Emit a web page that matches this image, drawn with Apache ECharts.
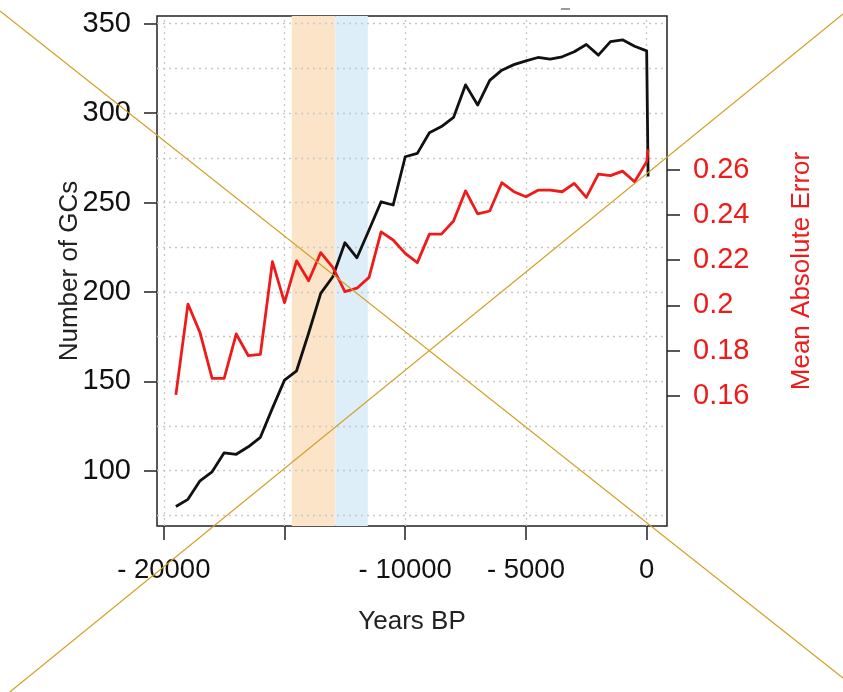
<!DOCTYPE html>
<html>
<head>
<meta charset="utf-8">
<title>Number of GCs and Mean Absolute Error through time</title>
<script src="https://cdn.jsdelivr.net/npm/echarts@6/dist/echarts.min.js"></script>
<style>
  html, body { margin: 0; padding: 0; background: #ffffff; }
  #chart { width: 843px; height: 692px; }
</style>
</head>
<body>
<div id="chart"></div>
<script>
// Time slices (years BP, negative = past)
const years = [-19500, -19000, -18500, -18000, -17500, -17000, -16500, -16000,
  -15500, -15000, -14500, -14000, -13500, -13000, -12500, -12000, -11500,
  -11000, -10500, -10000, -9500, -9000, -8500, -8000, -7500, -7000, -6500,
  -6000, -5500, -5000, -4500, -4000, -3500, -3000, -2500, -2000, -1500,
  -1000, -500, 0, 60];

// Number of GCs per time slice (left axis)
const gcCount = [80, 84, 94.4, 99.4, 110, 109.2, 113.4, 118.7, 135, 150.7,
  155.9, 177, 199.2, 208.5, 227.5, 219.1, 234.6, 250.4, 248.6, 275.6, 277.5,
  289, 292.5, 297.6, 315.8, 304.5, 318.3, 324, 327.1, 329.2, 331.1, 330.2,
  331.5, 334.3, 338.4, 332.4, 340, 341, 337.4, 334.8, 264.6];

// Mean absolute error per time slice (right axis)
const meanAbsError = [0.1605, 0.2006, 0.188, 0.1678, 0.1678, 0.1874, 0.1778,
  0.1784, 0.2193, 0.2012, 0.2197, 0.2109, 0.2233, 0.2168, 0.2061, 0.2076,
  0.2124, 0.2325, 0.2289, 0.223, 0.2189, 0.2315, 0.2315, 0.2373, 0.2506,
  0.2404, 0.2417, 0.2542, 0.2502, 0.248, 0.2509, 0.2509, 0.2502, 0.2539,
  0.2477, 0.258, 0.2573, 0.2593, 0.2546, 0.2634, 0.2689];

// Climate intervals shaded behind the curves
const bandStart = [-14700, -12900];
const bandEnd = [-12900, -11550];
const bandColor = ['#fbe4c8', '#deeef9'];

// Tick positions and labels
const xTicks = [-20000, -15000, -10000, -5000, 0];
const xLabels = [-20000, -10000, -5000, 0];
const yLeftTicks = [100, 150, 200, 250, 300, 350];
const yRightTicks = [0.16, 0.18, 0.2, 0.22, 0.24, 0.26];
const xGridLines = [-20000, -15000, -10000, -5000, 0];
const yGridLines = [75, 100, 125, 150, 175, 200, 225, 250, 275, 300, 325, 350];

const FONT = "'Liberation Sans', Arial, Helvetica, sans-serif";
const chart = echarts.init(document.getElementById('chart'), null, { renderer: 'canvas' });

const blackPts = years.map((y, i) => [y, gcCount[i]]);
const redPts = years.map((y, i) => [y, meanAbsError[i]]);

const gridDots = { color: '#c8c8c8', width: 1.3, type: [2, 4] };
const tickStyle = { color: '#222', width: 1.5 };

const option = {
  backgroundColor: '#ffffff',
  animation: false,
  grid: {
    left: 157, right: 176, top: 16, bottom: 166,
    show: true, borderColor: '#222', borderWidth: 1.5, backgroundColor: 'transparent'
  },
  xAxis: {
    type: 'value',
    min: -20282, max: 842,
    name: 'Years BP', nameLocation: 'middle', nameGap: 83,
    nameTextStyle: { fontFamily: FONT, fontSize: 26, color: '#222' },
    axisLine: { show: false, onZero: false },
    splitLine: { show: false },
    axisTick: { show: true, customValues: xTicks, length: 14, lineStyle: tickStyle },
    axisLabel: {
      customValues: xLabels, margin: 30,
      fontFamily: FONT, fontSize: 27.5, color: '#111',
      formatter: v => (v < 0 ? '- ' + Math.abs(v) : String(v))
    }
  },
  yAxis: [
    {
      type: 'value', position: 'left',
      min: 69.1, max: 354.3,
      name: 'Number of GCs', nameLocation: 'middle', nameGap: 74, nameMoveOverlap: false,
      nameTextStyle: { fontFamily: FONT, fontSize: 26, color: '#222' },
      axisLine: { show: false, onZero: false },
      splitLine: { show: false },
      axisTick: { show: true, customValues: yLeftTicks, length: 13, lineStyle: tickStyle },
      axisLabel: { customValues: yLeftTicks, margin: 26, fontFamily: FONT, fontSize: 29, color: '#111' }
    },
    {
      type: 'value', position: 'right',
      min: 0.1026, max: 0.3278,
      name: 'Mean Absolute Error', nameLocation: 'middle', nameGap: 122, nameRotate: 90,
      nameTextStyle: { fontFamily: FONT, fontSize: 26, color: '#ee1b1b' },
      axisLine: { show: false, onZero: false },
      splitLine: { show: false },
      axisTick: { show: true, customValues: yRightTicks, length: 13, lineStyle: tickStyle },
      axisLabel: {
        customValues: yRightTicks, margin: 26, fontFamily: FONT, fontSize: 29, color: '#ee1b1b',
        formatter: v => String(+v.toFixed(2))
      }
    }
  ],
  series: [
    {
      // background layer: shaded intervals and dotted reference grid
      name: 'background', type: 'line', data: [], z: 1, silent: true,
      markArea: {
        silent: true, z: 1,
        data: bandStart.map((s, i) => [
          { xAxis: s, itemStyle: { color: bandColor[i] } },
          { xAxis: bandEnd[i] }
        ])
      },
      markLine: {
        silent: true, z: 1, symbol: 'none', label: { show: false },
        lineStyle: gridDots,
        data: xGridLines.map(v => ({ xAxis: v })).concat(yGridLines.map(v => ({ yAxis: v })))
      }
    },
    {
      name: 'Number of GCs', type: 'line', yAxisIndex: 0, z: 3,
      data: blackPts, symbol: 'none',
      lineStyle: { color: '#111', width: 2.8, join: 'round' }
    },
    {
      name: 'Mean Absolute Error', type: 'line', yAxisIndex: 1, z: 4,
      data: redPts, symbol: 'none',
      lineStyle: { color: '#ee1b1b', width: 2.8, join: 'round' }
    }
  ],
  graphic: [
    // diagonal cross overlay
    { type: 'line', z: 100, silent: true, shape: { x1: 0, y1: 11, x2: 843, y2: 678 },
      style: { stroke: '#d1a024', lineWidth: 1.2 } },
    { type: 'line', z: 100, silent: true, shape: { x1: 0, y1: 700, x2: 843, y2: 14 },
      style: { stroke: '#d1a024', lineWidth: 1.2 } },
    // small grey dash above the frame
    { type: 'line', z: 100, silent: true, shape: { x1: 561, y1: 9, x2: 570, y2: 9 },
      style: { stroke: '#9a9a9a', lineWidth: 2 } }
  ]
};

chart.setOption(option);
</script>
</body>
</html>
